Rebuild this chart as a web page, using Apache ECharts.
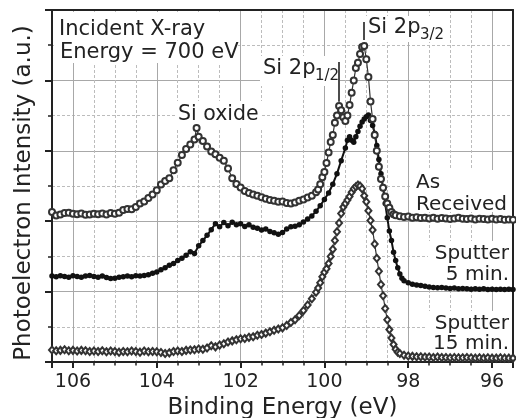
<!DOCTYPE html>
<html>
<head>
<meta charset="utf-8">
<script src="https://cdn.jsdelivr.net/npm/echarts@6/dist/echarts.min.js"></script>
<style>html,body{margin:0;padding:0;background:#fff;}#c{width:516px;height:418px;}</style>
</head>
<body>
<div id="c"></div>
<script>
// Tick labels shown on the binding-energy axis
const xTickLabels = [96, 98, 100, 102, 104, 106];

// [binding energy (eV), intensity (a.u.)]
const asReceived = [
[106.5,4.26],[106.4,4.16],[106.3,4.19],[106.2,4.23],[106.1,4.24],[106.0,4.21],[105.9,4.2],[105.8,4.22],[105.7,4.18],[105.6,4.19],
[105.5,4.21],[105.4,4.2],[105.3,4.22],[105.2,4.19],[105.1,4.23],[105.0,4.21],[104.9,4.24],[104.8,4.32],[104.7,4.35],[104.6,4.34],
[104.5,4.4],[104.4,4.5],[104.3,4.56],[104.2,4.66],[104.1,4.76],[104.0,4.88],[103.9,5.04],[103.8,5.14],[103.7,5.22],[103.6,5.45],
[103.5,5.66],[103.4,5.88],[103.3,6.05],[103.2,6.18],[103.1,6.32],[103.05,6.65],[103.0,6.4],[102.9,6.28],[102.8,6.12],[102.7,5.98],
[102.6,5.9],[102.5,5.8],[102.4,5.72],[102.3,5.5],[102.2,5.22],[102.1,5.06],[102.0,4.96],[101.9,4.86],[101.8,4.8],[101.7,4.76],
[101.6,4.72],[101.5,4.68],[101.4,4.64],[101.3,4.6],[101.2,4.58],[101.1,4.55],[101.0,4.56],[100.9,4.52],[100.8,4.5],[100.7,4.53],
[100.6,4.58],[100.5,4.62],[100.4,4.67],[100.3,4.72],[100.2,4.82],[100.15,4.9],[100.1,5.05],[100.05,5.25],[100.0,5.4],[99.95,5.65],
[99.9,5.95],[99.85,6.25],[99.8,6.45],[99.75,6.8],[99.7,7.0],[99.65,7.27],[99.6,7.15],[99.55,6.95],[99.5,6.85],[99.45,7.0],
[99.4,7.3],[99.35,7.65],[99.3,8.0],[99.25,8.35],[99.2,8.5],[99.15,8.75],[99.1,8.95],[99.05,8.98],[99.0,8.6],[98.95,8.1],
[98.9,7.4],[98.85,6.9],[98.8,6.45],[98.75,6.0],[98.7,5.55],[98.65,5.2],[98.6,4.95],[98.55,4.7],[98.5,4.5],[98.45,4.38],
[98.4,4.26],[98.35,4.2],[98.3,4.17],[98.2,4.14],[98.1,4.12],[98.0,4.13],[97.9,4.1],[97.8,4.11],[97.7,4.09],[97.6,4.1],
[97.5,4.08],[97.4,4.1],[97.3,4.07],[97.2,4.09],[97.1,4.08],[97.0,4.06],[96.9,4.08],[96.8,4.1],[96.7,4.07],[96.6,4.06],
[96.5,4.08],[96.4,4.05],[96.3,4.07],[96.2,4.06],[96.1,4.05],[96.0,4.07],[95.9,4.05],[95.8,4.06],[95.7,4.04],[95.6,4.05],[95.5,4.04]
];

const sputter5 = [
[106.5,2.44],[106.4,2.42],[106.3,2.45],[106.2,2.43],[106.1,2.41],[106.0,2.45],[105.9,2.43],[105.8,2.41],[105.7,2.44],[105.6,2.46],
[105.5,2.43],[105.4,2.41],[105.3,2.44],[105.2,2.4],[105.1,2.37],[105.0,2.38],[104.9,2.41],[104.8,2.42],[104.7,2.44],[104.6,2.42],
[104.5,2.45],[104.4,2.44],[104.3,2.46],[104.2,2.48],[104.1,2.52],[104.0,2.56],[103.9,2.62],[103.8,2.68],[103.7,2.75],[103.6,2.8],
[103.5,2.88],[103.4,2.95],[103.3,3.03],[103.2,3.13],[103.1,3.08],[103.0,3.3],[102.9,3.45],[102.8,3.6],[102.7,3.76],[102.6,3.93],
[102.5,3.84],[102.4,3.96],[102.3,3.87],[102.2,3.97],[102.1,3.9],[102.0,3.93],[101.9,3.85],[101.8,3.9],[101.7,3.83],[101.6,3.8],
[101.5,3.75],[101.4,3.78],[101.3,3.71],[101.2,3.67],[101.1,3.63],[101.0,3.68],[100.9,3.78],[100.8,3.84],[100.7,3.86],[100.6,3.9],
[100.5,3.98],[100.4,4.06],[100.3,4.15],[100.2,4.28],[100.1,4.44],[100.0,4.62],[99.9,4.8],[99.8,5.05],[99.7,5.35],[99.6,5.72],
[99.5,6.08],[99.45,6.3],[99.4,6.4],[99.35,6.3],[99.3,6.24],[99.25,6.4],[99.2,6.55],[99.15,6.7],[99.1,6.82],[99.05,6.9],
[99.0,6.97],[98.95,7.02],[98.9,6.86],[98.85,6.72],[98.8,6.5],[98.75,6.15],[98.7,5.75],[98.65,5.35],[98.6,4.95],[98.55,4.5],
[98.5,4.1],[98.45,3.72],[98.4,3.45],[98.35,3.12],[98.3,2.88],[98.25,2.68],[98.2,2.5],[98.15,2.38],[98.1,2.31],[98.0,2.25],
[97.9,2.21],[97.8,2.19],[97.7,2.17],[97.6,2.15],[97.5,2.13],[97.4,2.12],[97.3,2.11],[97.2,2.12],[97.1,2.1],[97.0,2.09],
[96.9,2.1],[96.8,2.08],[96.7,2.09],[96.6,2.08],[96.5,2.07],[96.4,2.08],[96.3,2.07],[96.2,2.08],[96.1,2.06],[96.0,2.07],
[95.9,2.06],[95.8,2.07],[95.7,2.06],[95.6,2.07],[95.5,2.06]
];

const sputter15 = [
[106.5,0.34],[106.4,0.32],[106.3,0.33],[106.2,0.35],[106.1,0.32],[106.0,0.33],[105.9,0.31],[105.8,0.33],[105.7,0.32],[105.6,0.3],
[105.5,0.31],[105.4,0.3],[105.3,0.32],[105.2,0.29],[105.1,0.31],[105.0,0.3],[104.9,0.28],[104.8,0.3],[104.7,0.29],[104.6,0.31],
[104.5,0.3],[104.4,0.28],[104.3,0.31],[104.2,0.29],[104.1,0.3],[104.0,0.29],[103.9,0.27],[103.8,0.24],[103.7,0.26],[103.6,0.3],
[103.5,0.31],[103.4,0.3],[103.3,0.33],[103.2,0.34],[103.1,0.35],[103.0,0.37],[102.9,0.36],[102.8,0.4],[102.7,0.46],[102.6,0.43],
[102.5,0.48],[102.4,0.52],[102.3,0.57],[102.2,0.6],[102.1,0.63],[102.0,0.66],[101.9,0.67],[101.8,0.7],[101.7,0.72],[101.6,0.76],
[101.5,0.78],[101.4,0.82],[101.3,0.86],[101.2,0.9],[101.1,0.94],[101.0,0.97],[100.9,1.04],[100.8,1.12],[100.7,1.2],[100.6,1.32],
[100.5,1.46],[100.4,1.62],[100.3,1.8],[100.2,1.98],[100.15,2.1],[100.1,2.25],[100.05,2.42],[100.0,2.55],[99.95,2.65],[99.9,2.8],
[99.85,3.0],[99.8,3.2],[99.75,3.45],[99.7,3.7],[99.65,3.95],[99.6,4.22],[99.55,4.4],[99.5,4.5],[99.45,4.6],[99.4,4.7],
[99.35,4.82],[99.3,4.92],[99.25,4.98],[99.2,5.03],[99.15,5.0],[99.1,4.92],[99.05,4.72],[99.0,4.55],[98.95,4.3],[98.9,4.02],
[98.85,3.75],[98.8,3.35],[98.75,2.95],[98.7,2.58],[98.65,2.2],[98.6,1.88],[98.55,1.52],[98.5,1.2],[98.45,0.92],[98.4,0.68],
[98.35,0.5],[98.3,0.36],[98.25,0.28],[98.2,0.24],[98.1,0.19],[98.0,0.17],[97.9,0.16],[97.8,0.15],[97.7,0.15],[97.6,0.14],
[97.5,0.14],[97.4,0.13],[97.3,0.14],[97.2,0.13],[97.1,0.13],[97.0,0.12],[96.9,0.13],[96.8,0.12],[96.7,0.12],[96.6,0.13],
[96.5,0.12],[96.4,0.11],[96.3,0.12],[96.2,0.11],[96.1,0.12],[96.0,0.11],[95.9,0.11],[95.8,0.12],[95.7,0.11],[95.6,0.11],[95.5,0.11]
];

// Peak pointer lines: [energy, from intensity, to intensity]
const peakPointers = [[99.65, 7.39, 8.52], [99.07, 9.15, 9.66]];

const FONT = '"DejaVu Sans", Verdana, sans-serif';
const INK = '#222';

const chart = echarts.init(document.getElementById('c'), null, {renderer: 'canvas'});

const axisLineStyle = {color: INK, width: 2};

function txt(text, x, y, size, align) {
  return {type: 'text', z: 10, x: x, y: y,
    style: {text: text, font: size + 'px ' + FONT, fill: INK, align: align || 'left', verticalAlign: 'middle'}};
}
function box(x, y, w, h) {
  return {type: 'rect', z: 1, shape: {x: x, y: y, width: w, height: h}, style: {fill: '#fff'}};
}

const option = {
  animation: false,
  backgroundColor: '#fff',
  textStyle: {fontFamily: FONT},
  grid: {left: 52, right: 3, top: 10, bottom: 56, containLabel: false, outerBoundsMode: 'none'},
  xAxis: [
    {
      type: 'value', min: 95.5, max: 106.5, inverse: true, position: 'bottom', splitNumber: 5,
      name: 'Binding Energy (eV)', nameLocation: 'middle', nameGap: 32,
      nameTextStyle: {fontSize: 23, color: INK, fontFamily: FONT},
      axisLine: {show: true, onZero: false, lineStyle: axisLineStyle},
      axisTick: {show: true, inside: false, length: 6, lineStyle: {color: INK, width: 2}},
      minorTick: {show: true, splitNumber: 4, length: 3.5, lineStyle: {color: INK, width: 1.5}},
      axisLabel: {margin: 11, fontSize: 19, color: INK, fontFamily: FONT,
        formatter: function (v) { return xTickLabels.indexOf(v) >= 0 ? String(v) : ''; }},
      splitLine: {show: true, lineStyle: {color: '#a8a8a8', width: 1}},
      minorSplitLine: {show: true, lineStyle: {color: '#bcbcbc', width: 1, type: [3, 2]}}
    },
    {
      type: 'value', min: 95.5, max: 106.5, inverse: true, position: 'top',
      axisLine: {show: true, onZero: false, lineStyle: axisLineStyle},
      axisTick: {show: false}, axisLabel: {show: false}, splitLine: {show: false}
    }
  ],
  yAxis: [
    {
      type: 'value', min: 0, max: 10, interval: 2, position: 'left',
      name: 'Photoelectron Intensity (a.u.)', nameLocation: 'middle', nameGap: 16, nameRotate: 90,
      nameTextStyle: {fontSize: 23, color: INK, fontFamily: FONT, padding: [0, 14, 0, 0]},
      axisLine: {show: true, onZero: false, lineStyle: axisLineStyle},
      axisTick: {show: true, inside: false, length: 7, lineStyle: {color: INK, width: 2}},
      minorTick: {show: true, splitNumber: 2, length: 4, lineStyle: {color: INK, width: 1.5}},
      axisLabel: {show: false},
      splitLine: {show: true, lineStyle: {color: '#a8a8a8', width: 1}},
      minorSplitLine: {show: true, lineStyle: {color: '#bcbcbc', width: 1, type: [3, 2]}}
    },
    {
      type: 'value', min: 0, max: 10, interval: 2, position: 'right',
      axisLine: {show: true, onZero: false, lineStyle: axisLineStyle},
      axisTick: {show: false}, axisLabel: {show: false}, splitLine: {show: false}
    }
  ],
  series: [
    {
      name: 'Sputter 15 min.', type: 'line', data: sputter15, xAxisIndex: 0, yAxisIndex: 0,
      symbol: 'emptyDiamond', symbolSize: [6, 7], showAllSymbol: true,
      lineStyle: {color: '#333', width: 1.2}, itemStyle: {color: '#333', borderWidth: 1.1}
    },
    {
      name: 'Sputter 5 min.', type: 'line', data: sputter5, xAxisIndex: 0, yAxisIndex: 0,
      symbol: 'circle', symbolSize: 5.5, showAllSymbol: true,
      lineStyle: {color: '#111', width: 2}, itemStyle: {color: '#111'}
    },
    {
      name: 'As Received', type: 'line', data: asReceived, xAxisIndex: 0, yAxisIndex: 0,
      symbol: 'emptyCircle', symbolSize: 6, showAllSymbol: true,
      lineStyle: {color: '#333', width: 1.2}, itemStyle: {color: '#333', borderWidth: 1.1},
      markLine: {
        silent: true, symbol: ['none', 'none'], label: {show: false},
        lineStyle: {color: '#111', width: 1.5, type: 'solid'},
        data: peakPointers.map(function (p) { return [{coord: [p[0], p[1]]}, {coord: [p[0], p[2]]}]; })
      }
    }
  ],
  graphic: {
    elements: [
      box(54, 12, 184, 51),
      box(176, 101, 86, 27),
      box(260, 56, 80, 30),
      box(366, 16, 82, 26),
      box(412, 170, 99, 42),
      box(428, 241, 83, 45),
      box(426, 311, 85, 45),
      txt('Incident X-ray', 59, 30, 21),
      txt('Energy = 700 eV', 60, 53, 21),
      txt('Si oxide', 178, 115, 20.5),
      txt('Si 2p', 263, 69, 21),
      txt('1/2', 315, 76, 15),
      txt('Si 2p', 368, 28, 21),
      txt('3/2', 420, 35, 15),
      txt('As', 416, 183, 20),
      txt('Received', 416, 205, 20),
      txt('Sputter', 509, 254, 20, 'right'),
      txt('5 min.', 509, 275, 20, 'right'),
      txt('Sputter', 509, 324, 20, 'right'),
      txt('15 min.', 509, 344, 20, 'right')
    ]
  }
};

chart.setOption(option);
</script>
</body>
</html>
